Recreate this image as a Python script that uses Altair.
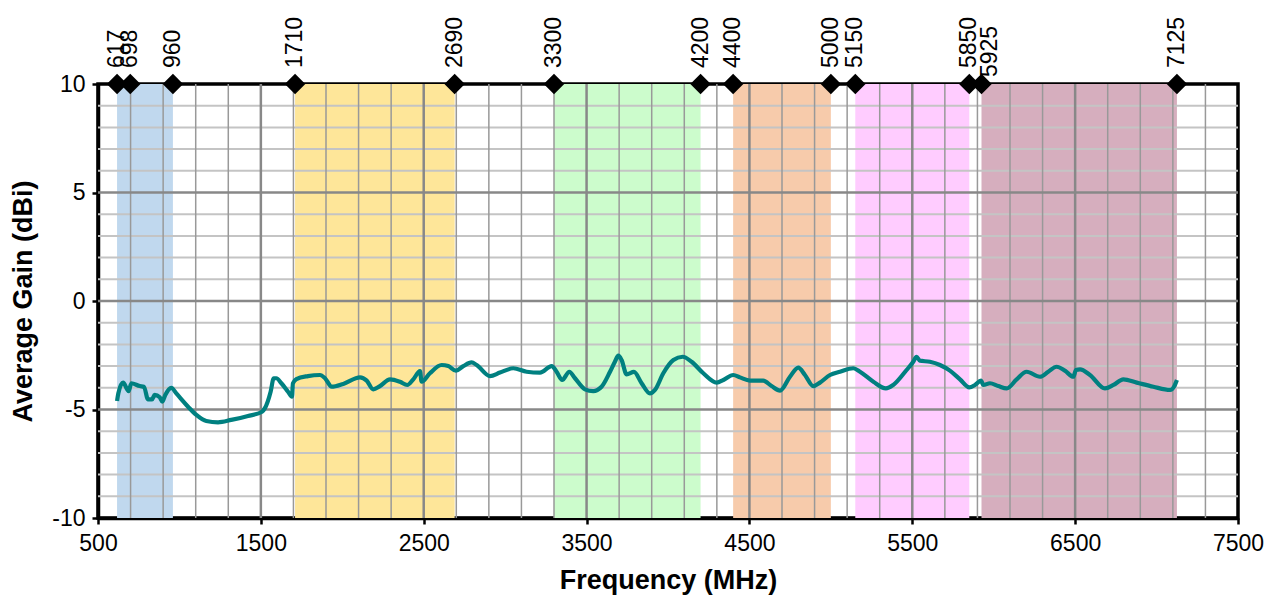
import altair as alt
import pandas as pd

# Measured average gain across the sweep
freq = [617, 625, 654, 688, 705, 756, 782, 807, 832, 848, 879, 895, 913, 950, 981,
        1053, 1104, 1165, 1237, 1318, 1421, 1507, 1524, 1560, 1579, 1595, 1626, 1667,
        1691, 1697, 1718, 1789, 1863, 1894, 1935, 2006, 2109, 2150, 2190, 2231, 2293,
        2354, 2399, 2436, 2477, 2487, 2538, 2610, 2651, 2698, 2743, 2794, 2825, 2907,
        2968, 3050, 3132, 3214, 3286, 3316, 3350, 3394, 3429, 3490, 3541, 3592, 3644,
        3674, 3695, 3715, 3746, 3791, 3838, 3889, 3920, 3971, 4033, 4090, 4145, 4217,
        4299, 4340, 4401, 4442, 4503, 4585, 4636, 4688, 4749, 4800, 4841, 4892, 4933,
        4995, 5056, 5138, 5179, 5261, 5338, 5383, 5465, 5506, 5526, 5547, 5608, 5670,
        5731, 5793, 5850, 5885, 5922, 5936, 5977, 6028, 6080, 6141, 6202, 6284, 6335,
        6386, 6437, 6489, 6505, 6530, 6591, 6683, 6735, 6796, 6878, 6980, 7083, 7107,
        7125]
gain = [-4.61, -4.25, -3.76, -4.15, -3.79, -3.92, -3.95, -4.53, -4.53, -4.33, -4.44,
        -4.64, -4.33, -4.00, -4.26, -4.87, -5.25, -5.53, -5.59, -5.48, -5.30, -5.10,
        -4.95, -4.18, -3.56, -3.56, -3.79, -4.18, -4.41, -3.79, -3.60, -3.46, -3.41,
        -3.56, -3.95, -3.82, -3.52, -3.67, -4.07, -3.92, -3.61, -3.72, -3.87, -3.61,
        -3.23, -3.72, -3.33, -2.95, -3.00, -3.21, -3.00, -2.83, -2.95, -3.46, -3.30,
        -3.10, -3.26, -3.30, -3.00, -3.26, -3.64, -3.26, -3.56, -4.07, -4.15, -3.95,
        -3.26, -2.80, -2.52, -2.72, -3.38, -3.27, -3.79, -4.26, -4.10, -3.33, -2.72,
        -2.57, -2.80, -3.33, -3.76, -3.64, -3.41, -3.52, -3.67, -3.67, -3.92, -4.13,
        -3.49, -3.07, -3.41, -3.92, -3.76, -3.41, -3.26, -3.10, -3.26, -3.72, -4.03,
        -3.87, -3.18, -2.80, -2.57, -2.75, -2.80, -2.95, -3.21, -3.61, -3.98, -3.87,
        -3.67, -3.87, -3.79, -3.92, -4.03, -3.61, -3.26, -3.49, -3.26, -3.03, -3.21,
        -3.49, -3.18, -3.15, -3.41, -4.03, -3.87, -3.61, -3.76, -3.95, -4.10, -3.95,
        -3.64]

# Frequency bands (MHz)
band_start = [617, 1710, 3300, 4400, 5150, 5925]
band_end = [960, 2690, 4200, 5000, 5850, 7125]
band_color = ["#c0d8ee", "#fee699", "#ccfccc", "#f7cbab", "#ffccff", "#d6aebe"]

# Band edge markers along the top
edge_freq = [617, 698, 960, 1710, 2690, 3300, 4200, 4400, 5000, 5150, 5850, 5925, 7125]

x_ticks = [500, 1500, 2500, 3500, 4500, 5500, 6500, 7500]
y_ticks = [-10, -5, 0, 5, 10]
x_grid_major = [1500, 2500, 3500, 4500, 5500, 6500]
x_grid_minor = [f for f in range(700, 7500, 200) if f not in x_grid_major]
y_grid_major = [-5, 0, 5]
y_grid_minor = [v for v in range(-9, 10) if v % 5 != 0]

FONT = "Liberation Sans"

xs = alt.Scale(domain=[500, 7500], nice=False, zero=False)
ys = alt.Scale(domain=[-10, 10], nice=False, zero=False)
x_axis = alt.Axis(values=x_ticks, title="Frequency (MHz)", grid=False, labelPadding=8,
                  titlePadding=12, labelFlush=False, labelExpr="datum.value + ''")
y_axis = alt.Axis(values=y_ticks, title="Average Gain (dBi)", grid=False, labelPadding=7,
                  titlePadding=14, labelFlush=False, labelExpr="datum.value + ''")

curve = pd.DataFrame({"f": freq, "g": gain})
bands = pd.DataFrame({"f": band_start, "f2": band_end, "c": band_color})
edges = pd.DataFrame({"f": edge_freq, "label": [str(v) for v in edge_freq]})

band_layer = alt.Chart(bands).mark_rect(opacity=1).encode(
    x=alt.X("f:Q", scale=xs, axis=x_axis),
    x2="f2:Q",
    y=alt.Y(datum=-10, scale=ys, axis=y_axis),
    y2=alt.datum(10),
    color=alt.Color("c:N", scale=None),
)

def vgrid(vals, color, width):
    return alt.Chart(pd.DataFrame({"f": vals})).mark_rule(color=color, strokeWidth=width).encode(
        x=alt.X("f:Q", scale=xs, axis=x_axis),
        y=alt.Y(datum=-10, scale=ys, axis=y_axis),
        y2=alt.datum(10),
    )

def hgrid(vals, color, width):
    return alt.Chart(pd.DataFrame({"g": vals})).mark_rule(color=color, strokeWidth=width).encode(
        y=alt.Y("g:Q", scale=ys, axis=y_axis),
        x=alt.X(datum=500, scale=xs, axis=x_axis),
        x2=alt.datum(7500),
    )

grid_layers = [
    hgrid(y_grid_minor, "#c4c4c4", 2),
    vgrid(x_grid_minor, "#999999", 1.5),
    hgrid(y_grid_major, "#888888", 2.5),
    vgrid(x_grid_major, "#888888", 2.5),
]

line_layer = alt.Chart(curve).mark_line(color="#008080", strokeWidth=4.2,
                                         interpolate="monotone").encode(
    x=alt.X("f:Q", scale=xs, axis=x_axis),
    y=alt.Y("g:Q", scale=ys, axis=y_axis),
)

diamonds = alt.Chart(edges).mark_point(shape="diamond", filled=True, color="black",
                                        size=420, opacity=1).encode(
    x=alt.X("f:Q", scale=xs, axis=x_axis),
    y=alt.Y(datum=10, scale=ys, axis=y_axis),
)

text_base = alt.Chart(edges)
labels = text_base.transform_filter(alt.datum.f != 5925).mark_text(
    angle=270, align="left", baseline="middle", dx=16, font=FONT, fontSize=23, color="black"
).encode(
    x=alt.X("f:Q", scale=xs, axis=x_axis),
    y=alt.Y(datum=10, scale=ys, axis=y_axis),
    text="label:N",
)
label_shifted = text_base.transform_filter(alt.datum.f == 5925).mark_text(
    angle=270, align="left", baseline="middle", dx=7, dy=8, font=FONT, fontSize=23, color="black"
).encode(
    x=alt.X("f:Q", scale=xs, axis=x_axis),
    y=alt.Y(datum=10, scale=ys, axis=y_axis),
    text="label:N",
)

chart = alt.layer(band_layer, *grid_layers, line_layer, diamonds, labels, label_shifted).properties(
    width=1140, height=434,
    autosize=alt.AutoSizeParams(type="none"),
    padding={"left": 98, "top": 84, "right": 34, "bottom": 81},
).configure_view(
    stroke="black", strokeWidth=3.5
).configure_axis(
    domainColor="black", domainWidth=3.5, tickColor="black", tickWidth=2.5, tickSize=6,
    labelFont=FONT, labelFontSize=23, labelColor="black",
    titleFont=FONT, titleFontSize=27, titleFontWeight="bold", titleColor="black",
)

chart.save("out.html", embed_options={"renderer": "svg", "actions": False})
